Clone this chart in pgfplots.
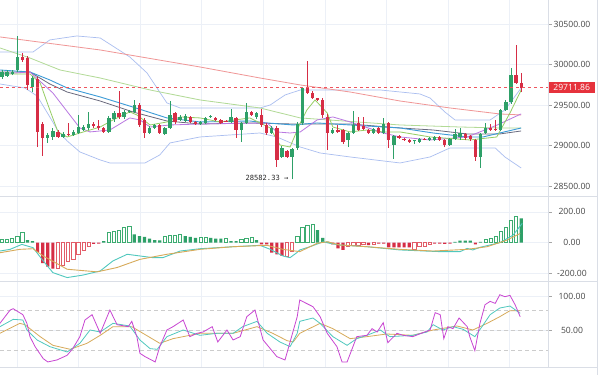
\documentclass[border=0pt]{standalone}
\usepackage{fontspec}
\setmainfont{Open Sans}
\newfontfamily\lowfont{DejaVu Sans Mono}
\usepackage{pgfplots}
\usepackage{pgfplotstable}
\pgfplotsset{compat=1.18}
\definecolor{cgreen}{RGB}{46,160,104}
\definecolor{cred}{RGB}{214,45,69}
\definecolor{hgreen}{RGB}{60,172,112}
\definecolor{hred}{RGB}{226,92,104}
\definecolor{cma200}{RGB}{240,150,150}
\definecolor{cma50}{RGB}{178,218,150}
\definecolor{cblue}{RGB}{60,155,215}
\definecolor{cgray}{RGB}{105,105,125}
\definecolor{cpurple}{RGB}{185,120,225}
\definecolor{cshort}{RGB}{150,205,100}
\definecolor{cboll}{RGB}{170,190,240}
\definecolor{cteal}{RGB}{80,200,190}
\definecolor{corange}{RGB}{215,170,90}
\definecolor{cmag}{RGB}{200,70,210}
\definecolor{gridc}{RGB}{236,240,247}
\definecolor{sepc}{RGB}{218,222,230}
\definecolor{labc}{RGB}{70,70,70}
\definecolor{lastred}{RGB}{230,50,60}
\definecolor{dashred}{RGB}{238,85,95}

% candles: index open close high low
\pgfplotstableread{
i o c h l
0 29846 29907 29932 29821
1 29858 29907 29932 29846
2 29883 29907 29932 29870
3 29932 30093 30352 29907
6 29722 29833 29858 29660
9 29093 29130 29154 29031
10 29105 29179 29216 29068
12 29105 29142 29167 29093
14 29130 29167 29191 29117
15 29154 29228 29377 29142
16 29191 29228 29253 29179
17 29216 29265 29414 29191
21 29167 29340 29364 29154
22 29327 29401 29426 29290
24 29352 29414 29438 29327
25 29414 29426 29438 29401
26 29414 29500 29562 29401
29 29154 29216 29241 29142
30 29216 29253 29265 29204
32 29142 29216 29228 29130
33 29216 29377 29549 29204
35 29315 29352 29377 29302
36 29302 29364 29389 29290
39 29265 29290 29302 29253
40 29278 29340 29352 29265
41 29348 29364 29377 29340
45 29290 29352 29451 29278
47 29191 29278 29290 29043
48 29278 29414 29525 29265
50 29352 29401 29414 29327
53 29154 29216 29241 29142
55 28858 28969 28994 28846
57 28858 28957 28969 28582
58 28969 29265 29290 28944
59 29278 29710 29722 29253
65 29154 29191 29216 29142
68 29068 29154 29167 28981
69 29154 29253 29426 29142
73 29154 29204 29216 29142
75 29154 29265 29340 29142
77 29006 29117 29130 28833
81 29049 29064 29068 29018
82 29043 29080 29093 29031
84 29068 29093 29105 29056
85 29068 29105 29117 29056
88 29006 29080 29093 28994
89 29080 29142 29204 29068
90 29105 29154 29216 29068
94 28858 29142 29154 28722
95 29154 29216 29278 29142
98 29191 29438 29451 29179
99 29438 29537 29562 29426
100 29537 29870 29957 29512
}\greenc
\pgfplotstableread{
i o c h l
4 30093 30056 30142 30031
5 30080 29747 30105 29685
7 29821 29167 29846 28981
8 29265 29093 29290 28870
11 29167 29105 29191 29093
13 29142 29130 29278 29117
18 29265 29241 29290 29216
19 29241 29216 29315 29191
20 29216 29167 29228 29154
23 29401 29352 29673 29327
27 29500 29253 29525 29228
28 29315 29154 29340 29093
31 29253 29154 29265 29142
34 29401 29290 29414 29265
37 29352 29290 29364 29278
38 29290 29265 29302 29253
42 29340 29315 29352 29302
43 29315 29278 29327 29265
44 29308 29296 29315 29290
46 29340 29191 29352 29093
49 29414 29377 29426 29364
51 29377 29253 29451 29228
52 29253 29154 29278 29130
54 29216 28821 29241 28735
56 28932 28858 28944 28846
60 29710 29648 30043 29636
61 29648 29586 29673 29574
62 29580 29562 29586 29549
63 29562 29377 29586 29340
64 29352 29154 29389 28944
66 29191 29167 29253 29154
67 29191 29043 29204 29018
70 29278 29191 29352 29179
71 29241 29204 29352 29191
72 29191 29154 29204 29142
74 29216 29154 29228 29142
76 29278 29068 29290 28969
78 29117 29093 29130 29080
79 29080 29066 29093 29056
80 29068 29043 29080 29031
83 29084 29070 29093 29062
86 29105 29068 29117 29056
87 29068 29006 29080 28981
91 29142 29093 29154 29068
92 29117 29080 29130 29056
93 29068 28858 29080 28809
96 29216 29191 29265 29179
97 29204 29191 29315 29179
101 29870 29772 30241 29759
102 29772 29711.86 29895 29660
}\redc

% MACD histogram
\pgfplotstableread{
i v
0 21
1 21
2 26
3 43
4 69
21 65
22 71
23 82
24 97
25 108
32 43
33 47
34 47
35 54
39 37
40 37
44 26
47 21
48 26
49 32
58 43
59 103
60 114
61 118
95 21
96 28
97 39
98 71
99 99
100 146
101 168
}\mgh
\pgfplotstableread{
i v
5 17
6 11
20 10
26 54
27 43
28 37
29 26
30 17
31 15
36 43
37 37
38 32
41 32
42 26
43 26
45 11
46 11
50 17
62 82
63 32
64 7
89 6
90 13
91 13
92 13
94 6
102 157
}\mgs
\pgfplotstableread{
i v
7 -60
8 -133
9 -155
10 -168
18 -7
19 -6
51 -11
52 -11
53 -65
54 -75
55 -86
65 -11
66 -37
67 -47
72 -15
74 -6
75 -6
76 -30
77 -30
78 -30
79 -30
80 -30
85 -6
86 -6
87 -7
88 -6
93 -11
}\mrs
\pgfplotstableread{
i v
11 -168
12 -146
13 -118
14 -108
15 -75
16 -47
17 -26
56 -86
57 -54
68 -26
69 -15
70 -15
71 -11
73 -11
81 -41
82 -26
83 -21
84 -11
}\mrh

\begin{document}
\begin{tikzpicture}[x=1pt,y=1pt]
\fill[white] (0pt,0pt) rectangle (600pt,-375pt);
\useasboundingbox (0pt,0pt) rectangle (600pt,-375pt);
\pgfplotsset{panel/.style={scale only axis, width=548pt,
  xmin=-0.39, xmax=107.27, axis line style={draw=none},
  major tick length=3.5pt, tick align=outside, ytick pos=right,
  xtick style={draw=none}, ytick style={draw=black!35, line width=0.6pt},
  xtick={2.95,15.05,27.15,39.25,51.35,63.46,75.56,87.66,99.76},
  xticklabels={}, xmajorgrids, ymajorgrids,
  grid style={gridc, line width=0.6pt},
  yticklabel pos=right, scaled y ticks=false,
  yticklabel style={anchor=center, xshift=20.5pt, text=labc},
  tick label style={font=\fontsize{8.6}{10}\selectfont},
  /pgf/number format/fixed, /pgf/number format/fixed zerofill,
  /pgf/number format/precision=2, /pgf/number format/1000 sep={},
  /pgf/number format/assume math mode=true},
  candle/.style={draw=none, mark=none, error bars/.cd, y dir=plus, y explicit, error mark=none}}

% ---------- main panel ----------
\begin{axis}[panel, at={(0pt,0pt)}, anchor=north west, height=196pt,
  ymin=28376, ymax=30796, ytick={28500,29000,29500,30000,30500}]
\addplot[cboll, line width=0.7pt] coordinates {(-0.4,30154) (6.1,30154) (9.4,30303) (14.7,30352) (19.3,30327) (25.1,30093) (28.5,29895) (32.4,29525) (35,29463) (50.7,29463) (52.7,29500) (55.6,29623) (58.6,29685) (74.3,29685) (82.1,29636) (84.1,29586) (87,29414) (89,29315) (95.9,29315) (98.8,29438) (102,29710)};
\addplot[cboll, line width=0.7pt] coordinates {(-0.4,29759) (4.5,29710) (6.9,29611) (9.4,29352) (11,29179) (12.8,29056) (15.3,28920) (19.3,28821) (21.2,28784) (28.1,28784) (31,28883) (33,29031) (38.9,29105) (50.7,29154) (54,29105) (58.6,28981) (62.5,28907) (68.4,28858) (78.2,28784) (84.1,28858) (88,28969) (96.9,28969) (98.8,28858) (102,28722)};
\addplot[cma200, line width=0.8pt] coordinates {(-0.4,30340) (19.3,30179) (38.9,29969) (50.7,29833) (58.6,29747) (68.4,29660) (78.2,29549) (88,29463) (97.8,29389) (102,29377)};
\addplot[cma50, line width=0.8pt] coordinates {(-0.4,30204) (5.5,30080) (11.4,29932) (19.3,29833) (29.1,29685) (38.9,29562) (50.7,29463) (58.6,29340) (78.2,29253) (90,29228) (97.8,29216) (102,29216)};
\addplot[cgray, line width=0.8pt] coordinates {(-0.4,29907) (5.5,29907) (9.4,29759) (12.8,29660) (19.3,29549) (25.7,29414) (32.4,29302) (38.9,29265) (48.7,29278) (57.2,29265) (68.4,29265) (78.2,29216) (84.7,29191) (91.4,29142) (97.8,29142) (102,29179)};
\addplot[cblue, line width=0.9pt] coordinates {(-0.4,29932) (5.5,29907) (9.4,29809) (12.8,29710) (19.3,29599) (25.7,29475) (32.4,29340) (38.9,29290) (48.7,29302) (52.1,29278) (57.2,29253) (61.9,29278) (68.4,29253) (78.2,29216) (84.7,29154) (91.4,29105) (94.5,29105) (97.8,29154) (102,29216)};
\addplot[cpurple, line width=0.8pt] coordinates {(-0.4,29883) (5.5,29907) (10,29648) (15.3,29216) (17.3,29167) (21.2,29191) (25.1,29340) (27.1,29315) (29.1,29228) (33,29253) (38.9,29265) (52.1,29278) (54,29167) (56.6,29154) (58.6,29167) (61.9,29315) (65,29352) (68.4,29290) (74.9,29154) (78.2,29105) (84.1,29068) (91.4,29105) (97.2,29250) (102,29390)};
\addplot[cshort, line width=0.8pt] coordinates {(-0.4,29883) (5.5,29883) (7.5,29772) (9.4,29438) (11,29167) (12.8,29105) (15.3,29154) (19.3,29228) (21.8,29315) (25.1,29414) (26.5,29377) (29.1,29253) (32.4,29290) (35,29352) (38.9,29340) (42.8,29290) (48.7,29340) (52.7,29216) (54.6,29006) (56.6,28981) (58.6,29278) (59.9,29438) (61.5,29562) (63.9,29401) (65,29228) (68.4,29167) (71.7,29191) (74.9,29167) (78.2,29167) (84.1,29105) (91.9,29068) (97.2,29105) (99.8,29401) (102,29685)};
% wicks
\addplot[candle, error bar style={draw=cgreen, line width=0.9pt}]
  table[x=i, y=l, y error plus expr=\thisrow{h}-\thisrow{l}] {\greenc};
\addplot[candle, error bar style={draw=cred, line width=0.9pt}]
  table[x=i, y=l, y error plus expr=\thisrow{h}-\thisrow{l}] {\redc};
% bodies
\addplot[candle, error bar style={draw=cgreen, line width=3.3pt}]
  table[x=i, y=o, y error plus expr=\thisrow{c}-\thisrow{o}] {\greenc};
\addplot[candle, error bar style={draw=cred, line width=3.3pt}]
  table[x=i, y=c, y error plus expr=\thisrow{o}-\thisrow{c}] {\redc};
\draw[draw=dashred, line width=0.8pt, dash pattern=on 3pt off 3pt] (axis cs:-0.39,29711.86) -- (axis cs:107.27,29711.86);
\node[anchor=east, inner sep=0pt, font=\lowfont\fontsize{7.1}{8}\selectfont, text=black!85] at (axis cs:56.3,28599) {28582.33 →};
\coordinate (pl) at (axis cs:107.27,29711.86);
\end{axis}
\node[fill=lastred, text=white, anchor=west, minimum width=46pt, minimum height=11pt, inner sep=0.5pt, font=\fontsize{8.6}{10}\selectfont] at ([xshift=0.5pt]pl) {29711.86};

% ---------- MACD panel ----------
\begin{axis}[panel, at={(0pt,-196pt)}, anchor=north west, height=85pt,
  ymin=-248.3, ymax=302.8, ytick={-200,0,200}]
\addplot[ybar, bar shift=0pt, bar width=3.2pt, fill=white, draw=hgreen, line width=0.6pt] table[x=i, y=v] {\mgh};
\addplot[ybar, bar shift=0pt, bar width=3.2pt, fill=cgreen, draw=none] table[x=i, y=v] {\mgs};
\addplot[ybar, bar shift=0pt, bar width=3.2pt, fill=cred, draw=none] table[x=i, y=v] {\mrs};
\addplot[ybar, bar shift=0pt, bar width=3.2pt, fill=white, draw=hred, line width=0.6pt] table[x=i, y=v] {\mrh};
\addplot[cteal, line width=0.9pt] coordinates {(-0.4,-54) (1.6,-43) (3.9,-11) (6.1,-32) (8.1,-118) (10,-194) (12.8,-226) (15.9,-210) (19.3,-183) (21.8,-118) (24.6,-75) (27.1,-86) (29.7,-97) (31.6,-97) (35,-54) (38.9,-39) (45.4,-26) (50.7,-17) (52.7,-43) (55.2,-86) (56.6,-97) (57.9,-65) (58.5,-47) (60.5,-26) (63.1,6) (64.4,-4) (66.4,-15) (71.7,-26) (78.2,-47) (86.1,-58) (90,-58) (91.4,-37) (92.5,-47) (93.9,-30) (97.8,0) (100.4,49) (102.2,125)};
\addplot[corange, line width=0.9pt] coordinates {(-0.4,-65) (3.5,-43) (6.1,-39) (8.1,-86) (12.8,-172) (18.7,-189) (22.6,-161) (27.1,-108) (32.4,-75) (38.9,-43) (45.4,-26) (52.1,-17) (55.2,-43) (58.5,-58) (61.9,-4) (63.9,6) (66.4,-15) (71.7,-26) (78.2,-43) (84.7,-54) (91.4,-43) (95.3,-26) (99.2,17) (101.8,60)};
\end{axis}

% ---------- Stochastic panel ----------
\begin{axis}[panel, at={(0pt,-281pt)}, anchor=north west, height=86pt,
  ymin=-5.6, ymax=123.6, ytick={50,100}]
\addplot[black!20, line width=0.8pt, dash pattern=on 4pt off 3pt] coordinates {(-0.39,80) (107.27,80)};
\addplot[black!20, line width=0.8pt, dash pattern=on 4pt off 3pt] coordinates {(-0.39,50) (107.27,50)};
\addplot[black!20, line width=0.8pt, dash pattern=on 4pt off 3pt] coordinates {(-0.39,20) (107.27,20)};
\addplot[corange, line width=0.8pt] coordinates {(-0.4,45) (3.5,60) (4.5,58) (7.5,40) (10.0,27) (13.4,21) (16.7,30) (19.3,42) (21.8,55) (25.5,55) (27.7,45) (31.0,30) (33.6,37) (38.9,45) (45.4,45) (50.1,55) (53.2,45) (56.0,34) (57.2,32) (58.5,45) (62.5,60) (65.0,52) (68.4,37) (71.7,40) (75.6,44) (80.7,42) (84.7,50) (89.4,56) (92.5,50) (95.3,60) (97.8,70) (99.8,79) (101.8,79)};
\addplot[cteal, line width=0.8pt] coordinates {(-0.4,55) (2.2,66) (4.1,65) (4.9,50) (6.9,35) (9.4,25) (12.8,17) (15.3,30) (17.3,50) (19.3,47) (21.8,60) (25.1,56) (27.1,35) (29.1,22) (30.5,21) (32.4,40) (35.6,50) (38.9,42) (42.2,45) (45.4,45) (47.3,55) (50.1,63) (52.1,45) (54.6,32) (56.6,25) (58.0,45) (58.5,63) (61.1,68) (62.5,60) (65.0,40) (67.8,27) (69.7,37) (71.7,42) (74.3,50) (76.2,40) (80.7,42) (83.5,47) (84.7,58) (86.6,50) (88.6,55) (90.6,51) (92.9,40) (94.3,55) (95.9,73) (97.8,83) (99.8,86) (101.8,75)};
\addplot[cmag, line width=0.8pt] coordinates {(-0.4,60) (1.6,80) (2.2,82) (4.1,73) (4.9,60) (5.5,40) (6.5,25) (8.1,7) (9.0,2) (10.8,5) (12.8,12) (13.9,22) (15.3,40) (16.3,65) (17.7,73) (19.3,45) (21.2,80) (22.6,58) (24.8,55) (25.5,63) (26.5,40) (27.1,15) (28.1,10) (30.1,2) (31.0,25) (32.4,50) (33.6,55) (35.6,65) (36.9,40) (38.3,45) (39.5,47) (41.3,55) (42.4,32) (44.2,50) (45.4,35) (46.8,40) (48.1,70) (49.7,80) (51.3,35) (54.0,10) (55.6,5) (58.0,70) (58.5,95) (61.1,85) (62.5,70) (63.9,45) (65.8,25) (66.8,2) (67.8,2) (69.7,40) (71.7,42) (72.7,52) (73.7,47) (74.9,61) (75.8,31) (77.6,45) (78.8,42) (80.7,40) (82.7,46) (84.1,50) (85.1,76) (86.1,73) (86.8,37) (87.6,55) (88.6,52) (89.8,68) (91.4,55) (91.9,40) (92.9,19) (93.9,60) (94.9,88) (95.9,93) (96.9,90) (97.8,103) (98.8,100) (99.8,102) (100.8,88) (101.8,70)};
\end{axis}

% panel separators
\draw[sepc, line width=0.7pt] (0pt,-196pt) -- (598pt,-196pt);
\draw[sepc, line width=0.7pt] (0pt,-281pt) -- (598pt,-281pt);
\draw[sepc, line width=0.7pt] (0pt,-367pt) -- (598pt,-367pt);
\draw[sepc, line width=0.7pt] (548pt,0pt) -- (548pt,-367pt);
\draw[sepc, line width=0.7pt] (597.5pt,0pt) -- (597.5pt,-375pt);
\end{tikzpicture}
\end{document}
